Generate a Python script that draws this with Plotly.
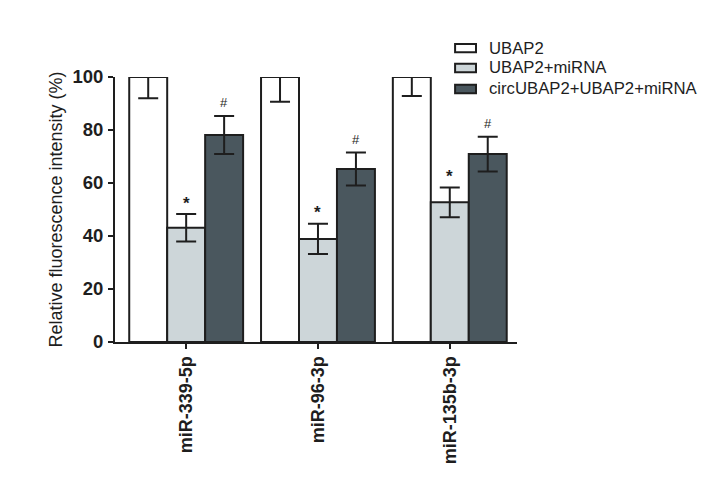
import plotly.graph_objects as go

categories = ["miR-339-5p", "miR-96-3p", "miR-135b-3p"]
series_names = ["UBAP2", "UBAP2+miRNA", "circUBAP2+UBAP2+miRNA"]
ubap2 = [100, 100, 100]
ubap2_err = [8.0, 9.3, 7.2]
ubap2_mirna = [43.1, 38.9, 52.7]
ubap2_mirna_err = [5.2, 5.7, 5.6]
circ = [78.1, 65.3, 70.9]
circ_err = [7.2, 6.2, 6.6]
marks_light = ["*", "*", "*"]
marks_dark = ["#", "#", "#"]
y_ticks = [0, 20, 40, 60, 80, 100]

FONT = "Liberation Sans, Arial, sans-serif"
LINE = "#1e1e1e"
colors = ["#ffffff", "#cdd6d9", "#4a575e"]

fig = go.Figure()
fig.add_trace(go.Bar(
    x=categories, y=ubap2, name=series_names[0],
    marker=dict(color=colors[0], line=dict(color=LINE, width=2)),
    error_y=dict(type="data", symmetric=False, array=[0, 0, 0], arrayminus=ubap2_err,
                 color=LINE, thickness=2, width=10),
    cliponaxis=False,
))
fig.add_trace(go.Bar(
    x=categories, y=ubap2_mirna, name=series_names[1],
    marker=dict(color=colors[1], line=dict(color=LINE, width=2)),
    error_y=dict(type="data", array=ubap2_mirna_err, color=LINE, thickness=2, width=10),
    cliponaxis=False,
))
fig.add_trace(go.Bar(
    x=categories, y=circ, name=series_names[2],
    marker=dict(color=colors[2], line=dict(color=LINE, width=2)),
    error_y=dict(type="data", array=circ_err, color=LINE, thickness=2, width=10),
    cliponaxis=False,
))

bargap = 0.136
grp = 1 - bargap
annotations = []
for i, c in enumerate(categories):
    off_light = -grp / 2 + grp / 3 * 1.5
    off_dark = -grp / 2 + grp / 3 * 2.5
    annotations.append(dict(
        x=i + off_light, y=ubap2_mirna[i] + ubap2_mirna_err[i], xref="x", yref="y",
        text="<b>" + marks_light[i] + "</b>", showarrow=False, yshift=11, yanchor="middle",
        font=dict(family=FONT, size=17, color="#1e1e1e"),
    ))
    annotations.append(dict(
        x=i + off_dark, y=circ[i] + circ_err[i], xref="x", yref="y",
        text=marks_dark[i], showarrow=False, yshift=13, yanchor="middle",
        font=dict(family=FONT, size=13, color="#1e1e1e"),
    ))

# legend drawn as boxes + labels (wide, flat swatches as in the original)
legend_rows_y = [1.109, 1.034, 0.955]
box_x0, box_x1, box_half_h = 0.846, 0.898, 0.016
shapes = []
for name, col, yy in zip(series_names, colors, legend_rows_y):
    shapes.append(dict(type="rect", xref="paper", yref="paper",
                       x0=box_x0, x1=box_x1, y0=yy - box_half_h, y1=yy + box_half_h,
                       fillcolor=col, line=dict(color=LINE, width=2)))
    annotations.append(dict(x=0.925, y=yy, xref="paper", yref="paper",
                            xanchor="left", yanchor="middle", showarrow=False,
                            text=name, font=dict(family=FONT, size=16.7, color="#1e1e1e")))

# page body has an 8px default margin; size the figure to fit inside the window
fig.update_layout(
    width=698, height=470,
    margin=dict(l=107, r=189, t=69, b=136),
    paper_bgcolor="white", plot_bgcolor="white",
    barmode="group", bargap=bargap, bargroupgap=0,
    font=dict(family=FONT, color="#1e1e1e"),
    showlegend=False,
    annotations=annotations,
    shapes=shapes,
)
fig.update_xaxes(
    type="category", range=[-0.54, 2.51],
    showline=True, linecolor=LINE, linewidth=2,
    ticks="outside", ticklen=5, tickwidth=2, tickcolor=LINE,
    tickangle=-90, showgrid=False, zeroline=False,
    tickfont=dict(family=FONT, size=18, color="#1e1e1e", weight="bold"),
)
fig.update_yaxes(
    range=[0, 100], tickvals=y_ticks,
    showline=True, linecolor=LINE, linewidth=2,
    ticks="outside", ticklen=5, tickwidth=2, tickcolor=LINE,
    showgrid=False, zeroline=False, ticklabelstandoff=1,
    tickfont=dict(family=FONT, size=18.5, color="#1e1e1e", weight="bold"),
    title=dict(text="Relative fluorescence intensity (%)", standoff=5,
               font=dict(family=FONT, size=18, color="#1e1e1e")),
)

fig.write_html("out.html")
